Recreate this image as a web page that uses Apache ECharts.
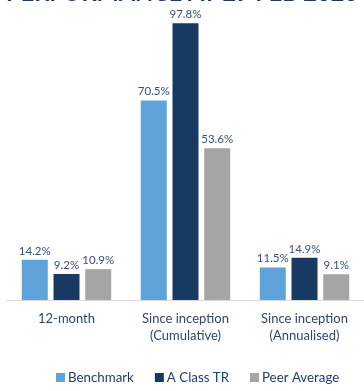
<!DOCTYPE html>
<html>
<head>
<meta charset="utf-8">
<script src="https://cdn.jsdelivr.net/npm/echarts@6/dist/echarts.min.js"></script>
<style>html,body{margin:0;padding:0;background:#fff;}#c{width:364px;height:391px;}</style>
</head>
<body>
<div id="c"></div>
<script>
const titleText = 'PERFORMANCE AT 29 FEB 2020';
const categories = ['12-month', 'Since inception\n(Cumulative)', 'Since inception\n(Annualised)'];
const seriesNames = ['Benchmark', 'A Class TR', 'Peer Average'];
const benchmark = [14.2, 70.5, 11.5];
const aClassTR = [9.2, 97.8, 14.9];
const peerAverage = [10.9, 53.6, 9.1];

const colors = ['#5ea3da', '#183a62', '#a5a5a5'];
const textColor = '#2b4774';
const font = 'Lato, "Open Sans", "Noto Sans", sans-serif';

const chart = echarts.init(document.getElementById('c'), null, {renderer: 'canvas'});
const mk = (name, data, color) => ({
  name, type: 'bar', data,
  barWidth: 26, barGap: '22%',
  itemStyle: {color},
  label: {show: true, position: 'top', distance: 3, formatter: p => p.value.toFixed(1) + '%',
    color: '#34507f', fontSize: 11.5, fontFamily: font},
  emphasis: {disabled: true}
});
chart.setOption({
  animation: false,
  title: {text: titleText, left: 'center', top: -24,
    textStyle: {color: '#1f3a68', fontSize: 23.5, fontWeight: 'bold', fontFamily: font}},
  legend: {bottom: 2, left: 51, itemWidth: 9, itemHeight: 9, itemGap: 21, icon: 'rect',
    data: seriesNames,
    textStyle: {color: '#213d6b', fontSize: 13.3, fontFamily: font, padding: [0, 0, 0, -2]}},
  grid: {left: 7, right: -4, top: 17, bottom: 91, containLabel: false},
  xAxis: {type: 'category', data: categories,
    axisLine: {lineStyle: {color: '#d9d9d9', width: 1}},
    axisTick: {show: false},
    axisLabel: {color: textColor, fontSize: 13, fontFamily: font, lineHeight: 17, margin: 10}},
  yAxis: {type: 'value', min: 0, max: 100, show: false, splitLine: {show: false}},
  series: [mk(seriesNames[0], benchmark, colors[0]), mk(seriesNames[1], aClassTR, colors[1]), mk(seriesNames[2], peerAverage, colors[2])]
});
</script>
</body>
</html>
